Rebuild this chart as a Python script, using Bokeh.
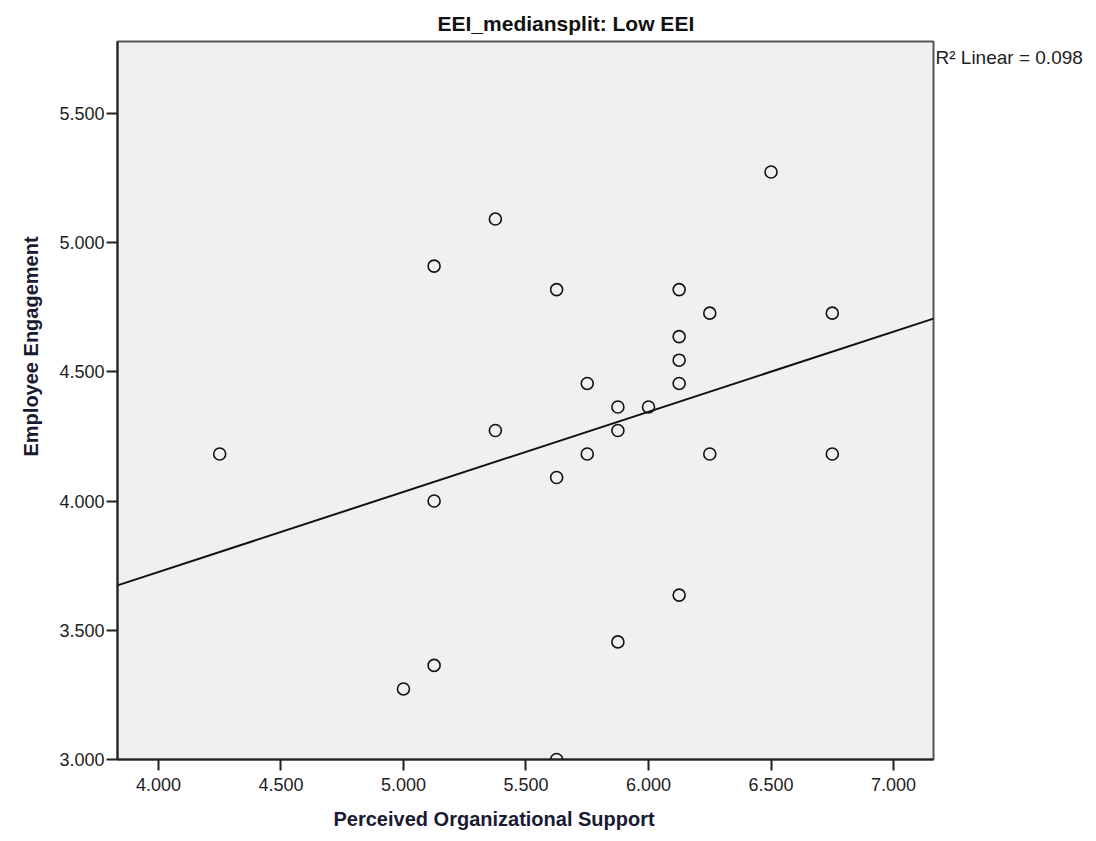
import numpy as np
from bokeh.plotting import figure
from bokeh.models import (Title, LinearAxis, NumeralTickFormatter, FixedTicker,
                          ColumnDataSource)
from bokeh.embed import file_html
from bokeh.resources import INLINE

# ---- data ----
perceived_support = [4.250, 5.000, 5.125, 5.125, 5.125, 5.375, 5.375, 5.625, 5.625, 5.625,
                     5.750, 5.750, 5.875, 5.875, 5.875, 6.000, 6.125, 6.125, 6.125, 6.125,
                     6.125, 6.250, 6.250, 6.500, 6.750, 6.750]
engagement = [4.182, 3.273, 3.364, 4.000, 4.909, 5.091, 4.273, 4.818, 4.091, 3.000,
              4.455, 4.182, 4.364, 4.273, 3.455, 4.364, 4.818, 4.636, 4.545, 4.455,
              3.636, 4.727, 4.182, 5.273, 4.727, 4.182]
x_ticks = [4.0, 4.5, 5.0, 5.5, 6.0, 6.5, 7.0]
y_ticks = [3.0, 3.5, 4.0, 4.5, 5.0, 5.5]
title_text = "EEI_mediansplit:  Low EEI"
x_label = "Perceived Organizational Support"
y_label = "Employee Engagement"
r2_text = "R² Linear = 0.098"

FONT = "Liberation Sans"
X0, X1 = 3.833, 7.163
Y0, Y1 = 3.0, 5.778
W, H = 1093, 841
FL, FB, FT, FR = 117, 759, 41, 933   # frame edges in canvas pixels

p = figure(width=W, height=H, x_range=(X0, X1), y_range=(Y0, Y1),
           output_backend="svg", toolbar_location=None, title=None,
           min_border_left=FL, min_border_right=W - FR, min_border_top=FT,
           min_border_bottom=H - FB)
p.border_fill_color = "white"
p.outline_line_color = "#555555"
p.outline_line_width = 2
p.grid.visible = False
p.background_fill_color = "#f0f0f0"

for ax in (p.xaxis[0], p.yaxis[0]):
    ax.axis_line_color = "#222222"
    ax.axis_line_width = 2
    ax.major_tick_line_color = "#222222"
    ax.major_tick_line_width = 2
    ax.major_tick_out = 11
    ax.major_tick_in = 0
    ax.minor_tick_line_color = None
    ax.major_label_text_font = FONT
    ax.major_label_text_font_size = "18px"
    ax.major_label_text_color = "#222222"
    ax.formatter = NumeralTickFormatter(format="0.000")

p.xaxis[0].ticker = FixedTicker(ticks=x_ticks)
p.yaxis[0].ticker = FixedTicker(ticks=y_ticks)
p.xaxis[0].major_label_standoff = 7
p.yaxis[0].major_label_standoff = 2

src = ColumnDataSource(dict(x=perceived_support, y=engagement))
p.scatter("x", "y", source=src, size=12, marker="circle", fill_alpha=0,
          line_color="#111111", line_width=1.6)

# fit line computed from the data
slope, intercept = np.polyfit(perceived_support, engagement, 1)
p.line([X0, X1], [intercept + slope * X0, intercept + slope * X1],
       line_color="#111111", line_width=2)

# title above the frame
p.add_layout(Title(text=title_text, align="left", offset=437 - FL, standoff=14,
                   text_font=FONT, text_font_size="21px", text_font_style="bold",
                   text_color="#111111"), "above")
# x label below the axis
p.add_layout(Title(text=x_label, align="left", offset=333 - FL, standoff=24,
                   text_font=FONT, text_font_size="20px", text_font_style="bold",
                   text_color="#1a1a33"), "below")
# y label left of the axis
p.add_layout(Title(text=y_label, align="left", offset=FB - 456, standoff=30,
                   text_font=FONT, text_font_size="20px", text_font_style="bold",
                   text_color="#1a1a33"), "left")

# R² note at the right edge, near the top (one labelled position on a bare right axis)
r2_pos = Y1 - (57 - FT) / ((FB - FT) / (Y1 - Y0))
note_axis = LinearAxis(ticker=FixedTicker(ticks=[r2_pos]),
                       major_label_overrides={r2_pos: r2_text},
                       axis_line_color=None, major_tick_line_color=None,
                       minor_tick_line_color=None, major_tick_out=0, major_tick_in=0,
                       major_label_standoff=2, major_label_text_font=FONT,
                       major_label_text_font_size="19px", major_label_text_color="#222222")
p.add_layout(note_axis, "right")

open("out.html", "w").write(file_html(p, INLINE))
